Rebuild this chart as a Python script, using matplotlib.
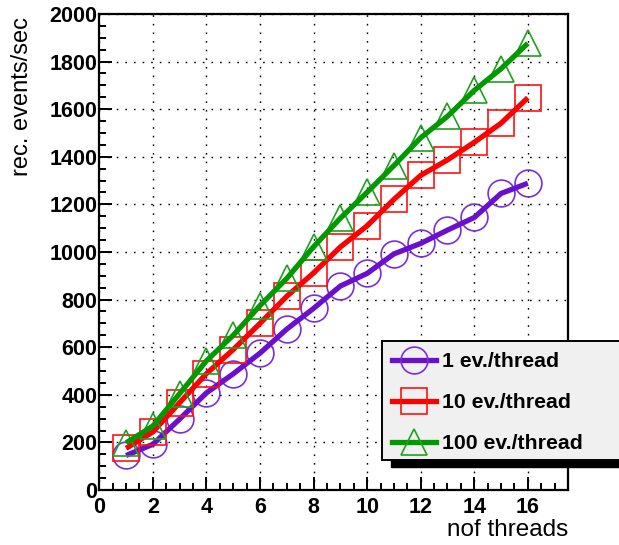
import matplotlib
matplotlib.use("Agg")
import matplotlib.pyplot as plt
from matplotlib.patches import Rectangle
from matplotlib.ticker import MultipleLocator

threads = [1, 2, 3, 4, 5, 6, 7, 8, 9, 10, 11, 12, 13, 14, 15, 16]
ev1 = [145, 192, 298, 408, 488, 575, 676, 763, 857, 910, 992, 1036, 1092, 1145, 1246, 1289]
ev10 = [175, 244, 367, 489, 590, 700, 814, 912, 1021, 1110, 1221, 1322, 1387, 1461, 1541, 1648]
ev100 = [198, 269, 405, 543, 650, 775, 889, 1022, 1142, 1251, 1363, 1480, 1570, 1679, 1770, 1877]
labels = ["1 ev./thread", "10 ev./thread", "100 ev./thread"]
x_ticks = [0, 2, 4, 6, 8, 10, 12, 14, 16]
y_ticks = [0, 200, 400, 600, 800, 1000, 1200, 1400, 1600, 1800, 2000]

plt.rcParams['font.family'] = ['Liberation Sans', 'DejaVu Sans']

W, H = 619, 545
fig = plt.figure(figsize=(W / 100, H / 100), dpi=100)
ax = fig.add_axes([99.3 / W, 55 / H, (568 - 99.3) / W, (490 - 14) / H])

series = [
    (ev1, 'o', '#6a0fcf', '#7a2ed8'),
    (ev10, 's', '#ff0000', '#ff1010'),
    (ev100, '^', '#009900', '#20a020'),
]
handles = []
for (vals, mk, lc, mc), lab in zip(series, labels):
    ax.plot(threads, vals, linestyle='none', marker=mk, markersize=19.3,
            markerfacecolor='none', markeredgecolor=mc, markeredgewidth=1.2,
            zorder=3)
    ax.plot(threads, vals, color=lc, linewidth=3.8, solid_capstyle='butt', zorder=3)
    h, = ax.plot([], [], color=lc, linewidth=3.8, marker=mk, markersize=19.3,
                 markerfacecolor='none', markeredgecolor=mc, markeredgewidth=1.2)
    handles.append(h)

ax.set_xlim(0, 17.5)
ax.set_ylim(0, 2000)
ax.set_xticks(x_ticks)
ax.set_yticks(y_ticks)
ax.xaxis.set_minor_locator(MultipleLocator(0.5))
ax.yaxis.set_minor_locator(MultipleLocator(50))
ax.tick_params(which='both', direction='in', top=False, right=False, width=1.4, color='black')
ax.tick_params(which='major', length=9.5)
ax.tick_params(which='minor', length=5)
ax.tick_params(axis='x', which='major', pad=5)
ax.tick_params(axis='y', which='major', pad=1.5)
for lbl in ax.get_xticklabels() + ax.get_yticklabels():
    lbl.set_fontweight('bold')
    lbl.set_fontsize(15.5)
for s in ax.spines.values():
    s.set_linewidth(1.6)
ax.grid(True, which='major', color='black', linestyle=(0, (1.2, 5)), linewidth=1.0)
ax.set_axisbelow(True)

fig.text(568 / W, 1 - 530 / H, "nof threads", ha='right', va='center',
         fontsize=17.5)
fig.text(22.5 / W, 1 - 17 / H, "rec. events/sec", ha='center', va='top',
         rotation=90, fontsize=17)

# legend box with shadow
lx0, ly0, lx1, ly1 = 381.7, 340.7, 640, 460
sh = 9
fig.patches.append(Rectangle(((lx0 + sh) / W, 1 - (ly1 + 7) / H), (lx1 - lx0) / W,
                             (ly1 - ly0) / H, transform=fig.transFigure,
                             facecolor='black', edgecolor='black', zorder=5))
fig.patches.append(Rectangle((lx0 / W, 1 - ly1 / H), (lx1 - lx0) / W, (ly1 - ly0) / H,
                             transform=fig.transFigure, facecolor='#f0f0f0',
                             edgecolor='black', linewidth=1.4, zorder=6))
leg = fig.legend(handles, labels, loc='upper left',
                 bbox_to_anchor=(375 / W, 1 - 335 / H), frameon=False,
                 prop={'size': 15.3, 'weight': 'bold'}, handlelength=2.05,
                 handletextpad=0.31, labelspacing=1.04, borderpad=0.3)
leg.set_zorder(7)

fig.savefig("out.png", dpi=100)
